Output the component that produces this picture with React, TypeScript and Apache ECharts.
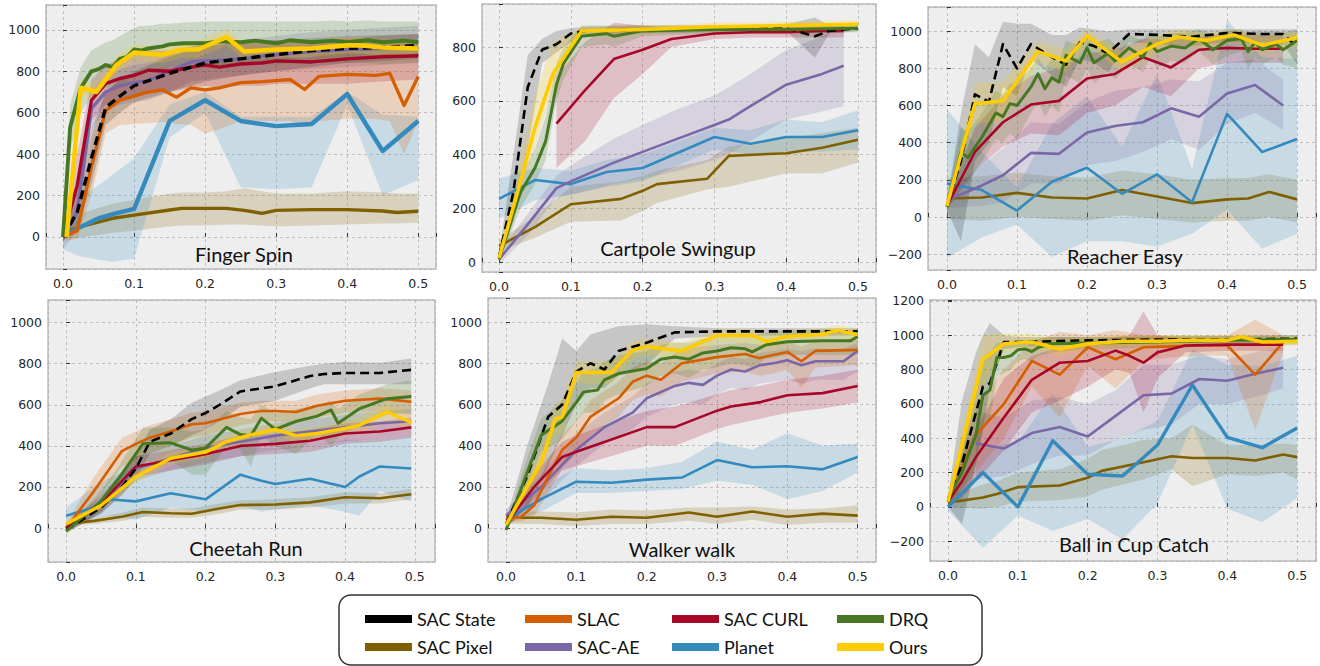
import React, { useEffect, useRef } from 'react';
import * as echarts from 'echarts';

type Row = [number, number, number, number]; // x, mean, lower, upper

const METHODS = ['SAC State', 'SAC Pixel', 'SLAC', 'SAC-AE', 'SAC CURL', 'Planet', 'DRQ', 'Ours'];
const COLORS: Record<string, string> = {
  'SAC State': '#000000',
  'SAC Pixel': '#7f6000',
  'SLAC': '#d55e00',
  'SAC-AE': '#7a68a6',
  'SAC CURL': '#a60628',
  'Planet': '#348abd',
  'DRQ': '#467821',
  'Ours': '#ffcc00',
};
const DRAW_ORDER = ['SAC Pixel', 'Planet', 'SAC-AE', 'SLAC', 'SAC CURL', 'SAC State', 'DRQ', 'Ours'];

// ---------- Finger Spin ----------
const fsState: Row[] = [[0,0,-20,20],[0.02,120,40,250],[0.04,380,250,520],[0.06,625,540,700],[0.08,680,600,760],[0.1,730,650,800],[0.15,790,700,870],[0.2,840,750,920],[0.25,860,780,940],[0.3,880,800,950],[0.35,900,820,960],[0.4,910,840,970],[0.45,915,850,975],[0.5,925,860,980]];
const fsPixel: Row[] = [[0.005,25,-10,60],[0.03,55,0,120],[0.07,90,20,160],[0.1,105,30,180],[0.15,130,50,210],[0.167,138,55,215],[0.2,138,55,215],[0.23,138,60,220],[0.255,128,60,235],[0.28,114,55,220],[0.3,128,50,210],[0.35,132,55,210],[0.4,132,60,220],[0.45,125,65,215],[0.47,118,65,210],[0.5,124,70,210]];
const fsPlanet: Row[] = [[0,0,-60,20],[0.02,40,-90,180],[0.05,90,-110,250],[0.07,110,-120,300],[0.1,135,-105,380],[0.15,560,480,640],[0.2,660,600,700],[0.25,560,240,580],[0.3,535,230,580],[0.35,545,240,580],[0.4,690,640,700],[0.45,415,200,590],[0.5,560,275,580]];
const fsSlac: Row[] = [[0,0,-20,20],[0.02,30,-10,80],[0.04,340,200,480],[0.06,610,500,700],[0.08,660,540,760],[0.1,680,545,790],[0.12,700,550,810],[0.14,710,555,820],[0.16,675,545,810],[0.18,720,540,830],[0.2,710,500,840],[0.22,720,520,850],[0.25,745,560,860],[0.28,750,560,860],[0.3,755,560,870],[0.32,760,560,870],[0.34,712,530,860],[0.36,775,560,880],[0.4,785,570,890],[0.44,780,570,880],[0.46,790,560,890],[0.48,635,400,860],[0.5,775,560,900]];
const fsCurl: Row[] = [[0,0,-20,20],[0.02,250,100,400],[0.04,660,560,760],[0.06,740,640,830],[0.08,765,660,860],[0.1,780,680,880],[0.12,805,700,900],[0.15,800,700,900],[0.18,820,720,920],[0.2,830,730,930],[0.22,820,720,930],[0.25,835,730,940],[0.28,840,730,950],[0.3,850,740,950],[0.35,845,740,950],[0.4,860,740,960],[0.45,870,750,970],[0.5,875,760,980]];
const fsAe: Row[] = [[0,0,-60,30],[0.02,120,30,250],[0.04,620,520,700],[0.06,700,610,780],[0.08,730,640,810],[0.1,745,650,830],[0.12,755,660,840],[0.15,800,700,880],[0.18,845,750,920],[0.2,850,760,930],[0.25,860,780,950],[0.3,880,800,970],[0.35,895,810,990],[0.4,905,820,1000],[0.45,910,830,1010],[0.5,915,840,1020]];
const fsDrq: Row[] = [[0,0,-20,20],[0.01,530,420,640],[0.025,720,600,820],[0.04,800,680,900],[0.05,810,700,920],[0.06,830,720,940],[0.07,820,710,950],[0.08,860,740,970],[0.09,870,750,990],[0.1,905,790,1010],[0.11,900,800,1020],[0.12,910,800,1020],[0.14,920,810,1030],[0.15,930,820,1030],[0.17,935,820,1035],[0.2,935,830,1040],[0.22,945,830,1040],[0.25,940,830,1040],[0.27,948,840,1040],[0.3,935,830,1040],[0.32,950,840,1040],[0.35,940,840,1040],[0.38,948,840,1045],[0.4,940,840,1040],[0.43,950,840,1045],[0.45,940,835,1040],[0.48,948,840,1040],[0.5,940,840,1040]];
const fsOurs: Row[] = [[0.005,0,-20,20],[0.025,720,680,760],[0.047,700,660,740],[0.075,830,790,870],[0.1,890,850,930],[0.14,880,840,920],[0.167,905,865,945],[0.19,905,865,945],[0.23,965,925,1005],[0.255,895,855,935],[0.3,905,865,945],[0.35,910,870,950],[0.4,925,885,965],[0.42,925,885,965],[0.45,915,875,955],[0.5,910,870,950]];

// ---------- Cartpole Swingup ----------
const cpState: Row[] = [[0,20,10,30],[0.02,260,150,400],[0.04,650,420,770],[0.06,790,740,830],[0.08,810,780,860],[0.1,850,820,870],[0.12,860,840,875],[0.2,865,850,880],[0.3,868,855,880],[0.4,870,860,885],[0.44,840,760,910],[0.46,860,850,880],[0.5,870,860,885]];
const cpPixel: Row[] = [[0,60,40,80],[0.05,130,90,170],[0.1,215,150,280],[0.17,235,155,300],[0.2,265,190,320],[0.22,290,220,340],[0.29,310,270,380],[0.32,395,280,430],[0.4,405,330,460],[0.45,425,330,480],[0.5,455,370,500]];
const cpPlanet: Row[] = [[0,235,160,310],[0.05,305,230,350],[0.1,290,250,340],[0.15,335,280,380],[0.2,350,300,400],[0.3,465,420,500],[0.35,440,400,490],[0.4,465,410,530],[0.45,465,410,520],[0.5,490,420,565]];
const cpAe: Row[] = [[0,10,-10,40],[0.04,140,100,180],[0.08,275,240,320],[0.1,300,250,360],[0.16,370,290,460],[0.2,410,310,510],[0.25,460,340,570],[0.3,510,380,620],[0.32,530,400,650],[0.35,580,450,700],[0.4,660,530,790],[0.45,700,560,840],[0.48,730,580,880]];
const cpCurl: Row[] = [[0.08,515,350,690],[0.12,640,450,820],[0.16,755,610,890],[0.2,790,700,880],[0.24,830,800,870],[0.3,850,830,875],[0.35,855,835,880],[0.4,855,835,880],[0.45,860,835,880],[0.48,860,835,880]];
const cpDrq: Row[] = [[0,10,0,20],[0.03,260,200,320],[0.05,350,290,420],[0.065,450,380,540],[0.08,660,600,740],[0.09,740,680,800],[0.115,840,800,880],[0.15,850,810,880],[0.16,840,800,880],[0.2,860,840,880],[0.3,865,850,880],[0.4,865,850,880],[0.5,870,855,885]];
const cpOurs: Row[] = [[0,15,5,25],[0.03,300,250,380],[0.05,500,430,620],[0.075,700,640,820],[0.115,860,840,875],[0.2,865,850,880],[0.3,875,860,890],[0.4,880,865,895],[0.5,885,870,900]];

// ---------- Reacher Easy ----------
const reState: Row[] = [[0,60,40,80],[0.02,300,-130,560],[0.04,660,300,930],[0.06,620,400,860],[0.08,930,700,1050],[0.1,800,650,1040],[0.12,930,850,1040],[0.15,860,760,980],[0.17,820,700,980],[0.19,940,850,1020],[0.21,920,830,1010],[0.23,880,780,1000],[0.26,985,940,1010],[0.3,980,930,1010],[0.35,970,920,1010],[0.4,990,940,1010],[0.45,985,940,1010],[0.48,985,930,1010],[0.5,915,820,1010]];
const rePixel: Row[] = [[0,100,-10,210],[0.05,105,-20,220],[0.1,130,0,240],[0.15,105,-10,220],[0.2,100,-20,210],[0.25,145,10,250],[0.3,110,-10,230],[0.35,75,-30,200],[0.4,95,-20,210],[0.43,100,-20,210],[0.46,135,0,230],[0.5,95,-30,200]];
const rePlanet: Row[] = [[0,180,-220,580],[0.05,145,-110,350],[0.1,35,-40,160],[0.15,190,-215,500],[0.2,265,-130,650],[0.25,125,-130,380],[0.3,230,-160,770],[0.35,80,-90,260],[0.4,555,40,1060],[0.45,350,-170,860],[0.5,420,-90,850]];
const reAe: Row[] = [[0,90,50,130],[0.05,170,60,280],[0.08,225,80,370],[0.12,345,180,510],[0.16,340,180,500],[0.2,455,280,620],[0.24,490,300,680],[0.28,510,350,700],[0.32,585,420,740],[0.36,540,360,730],[0.4,665,500,830],[0.44,710,560,850],[0.48,600,470,740]];
const reCurl: Row[] = [[0,60,40,80],[0.04,350,250,480],[0.08,510,380,650],[0.12,605,450,760],[0.16,625,440,800],[0.2,745,560,880],[0.24,770,600,900],[0.28,860,700,960],[0.32,805,650,950],[0.36,900,800,970],[0.4,910,830,980],[0.44,905,830,980],[0.48,905,830,980]];
const reDrq: Row[] = [[0,55,20,90],[0.02,350,200,480],[0.03,320,180,460],[0.05,430,300,560],[0.07,560,420,680],[0.08,540,400,660],[0.09,610,450,720],[0.1,600,420,720],[0.12,700,560,800],[0.13,770,620,860],[0.14,690,540,800],[0.15,750,600,850],[0.16,725,560,840],[0.17,870,760,950],[0.19,830,720,920],[0.2,910,800,980],[0.21,830,720,930],[0.23,880,780,960],[0.24,840,740,930],[0.26,910,820,980],[0.28,860,780,950],[0.29,935,860,1000],[0.3,890,800,970],[0.32,920,840,990],[0.34,910,830,990],[0.36,960,890,1010],[0.38,900,820,980],[0.4,950,870,1000],[0.42,960,890,1010],[0.43,890,800,980],[0.44,940,860,1000],[0.45,900,820,990],[0.47,930,860,1000],[0.48,900,820,990],[0.5,950,800,1010]];
const reOurs: Row[] = [[0,60,40,80],[0.04,610,500,720],[0.08,625,520,730],[0.13,890,830,950],[0.17,840,780,900],[0.2,975,930,1010],[0.25,835,780,890],[0.3,930,880,980],[0.33,970,930,1010],[0.37,950,910,990],[0.41,980,940,1010],[0.45,925,880,970],[0.5,965,920,1000]];

// ---------- Cheetah Run ----------
const chState: Row[] = [[0,-10,-20,0],[0.05,100,70,140],[0.08,200,160,250],[0.1,290,240,350],[0.12,420,360,480],[0.15,460,400,530],[0.18,530,450,610],[0.2,560,480,640],[0.22,600,520,670],[0.25,665,590,720],[0.3,690,620,760],[0.35,740,680,790],[0.37,750,700,800],[0.4,755,700,810],[0.45,755,700,805],[0.495,770,700,825]];
const chPixel: Row[] = [[0,20,10,30],[0.04,35,20,50],[0.08,55,35,75],[0.11,78,55,100],[0.15,72,50,95],[0.18,70,50,95],[0.22,95,70,120],[0.25,112,90,135],[0.3,115,90,140],[0.35,125,100,150],[0.4,150,120,175],[0.45,145,120,170],[0.495,165,140,190]];
const chPlanet: Row[] = [[0,60,20,100],[0.04,100,50,200],[0.06,140,60,240],[0.1,130,40,300],[0.15,170,100,330],[0.2,140,80,350],[0.25,260,110,400],[0.28,230,80,390],[0.3,215,90,390],[0.35,240,110,400],[0.4,200,80,430],[0.42,250,60,430],[0.45,300,180,440],[0.495,290,130,450]];
const chSlac: Row[] = [[0,0,-20,20],[0.04,180,120,250],[0.08,375,300,440],[0.1,410,330,470],[0.12,440,370,500],[0.15,470,400,530],[0.18,505,440,560],[0.2,510,450,570],[0.25,555,500,610],[0.28,570,520,620],[0.3,570,520,620],[0.33,565,510,620],[0.36,595,540,650],[0.4,620,560,670],[0.45,630,570,680],[0.495,615,550,670]];
const chCurl: Row[] = [[0,0,-20,20],[0.05,120,80,160],[0.1,300,250,350],[0.15,330,280,380],[0.2,360,310,410],[0.25,400,350,450],[0.3,410,360,460],[0.35,425,370,480],[0.4,460,410,510],[0.45,470,420,520],[0.495,490,440,540]];
const chAe: Row[] = [[0,0,-20,20],[0.05,110,70,150],[0.1,290,230,350],[0.15,340,280,400],[0.2,390,320,450],[0.25,420,350,480],[0.3,450,380,510],[0.35,470,400,530],[0.4,490,420,550],[0.45,510,440,570],[0.495,520,450,580]];
const chDrq: Row[] = [[0,-15,-30,0],[0.05,130,80,180],[0.075,240,180,300],[0.11,410,320,490],[0.15,415,330,490],[0.18,380,260,470],[0.2,390,260,480],[0.23,490,400,570],[0.25,455,380,540],[0.265,450,300,530],[0.28,535,450,600],[0.3,480,400,560],[0.33,520,360,580],[0.36,545,460,600],[0.38,575,400,620],[0.39,510,440,580],[0.42,580,500,650],[0.46,630,550,700],[0.495,640,560,720]];
const chOurs: Row[] = [[0,20,10,30],[0.05,110,90,130],[0.1,250,220,280],[0.15,340,310,370],[0.2,370,340,400],[0.23,420,390,450],[0.26,450,420,480],[0.3,480,450,510],[0.33,450,420,480],[0.36,460,430,490],[0.4,485,450,520],[0.42,500,460,540],[0.46,565,520,600],[0.495,515,480,550]];

// ---------- Walker walk ----------
const wkState: Row[] = [[0,20,0,40],[0.03,250,100,400],[0.06,540,300,700],[0.08,600,450,920],[0.1,760,600,860],[0.12,800,680,940],[0.14,770,680,960],[0.16,860,740,980],[0.2,900,790,990],[0.24,950,920,980],[0.3,955,930,970],[0.4,955,935,970],[0.5,955,935,970]];
const wkPixel: Row[] = [[0,50,20,80],[0.05,50,20,80],[0.1,40,10,75],[0.15,55,20,90],[0.2,50,20,85],[0.26,75,35,100],[0.3,55,20,100],[0.35,80,40,105],[0.4,55,15,90],[0.45,70,25,95],[0.5,60,25,110]];
const wkPlanet: Row[] = [[0,40,20,60],[0.05,140,80,200],[0.1,225,170,290],[0.15,220,170,280],[0.2,235,180,290],[0.25,245,190,320],[0.3,330,230,420],[0.35,295,210,380],[0.4,300,140,460],[0.45,285,180,400],[0.5,345,270,410]];
const wkCurl: Row[] = [[0,20,0,50],[0.04,200,140,260],[0.08,345,280,420],[0.1,370,300,450],[0.15,430,350,510],[0.2,490,400,570],[0.24,490,400,590],[0.3,570,480,650],[0.32,590,500,670],[0.36,610,530,690],[0.4,645,560,720],[0.45,655,580,740],[0.5,690,610,770]];
const wkAe: Row[] = [[0,60,30,90],[0.05,200,130,260],[0.1,380,300,460],[0.14,490,410,560],[0.18,560,480,640],[0.2,630,540,700],[0.24,690,600,760],[0.26,705,610,770],[0.28,695,600,760],[0.3,740,650,800],[0.32,770,680,830],[0.34,760,670,820],[0.36,790,700,850],[0.38,800,710,860],[0.4,815,720,870],[0.42,790,700,860],[0.44,810,720,870],[0.48,810,720,870],[0.5,860,760,900]];
const wkSlac: Row[] = [[0,50,30,70],[0.02,50,30,80],[0.04,110,60,170],[0.06,250,170,330],[0.08,380,290,460],[0.1,440,360,520],[0.12,540,450,620],[0.16,630,540,710],[0.18,710,620,780],[0.2,740,650,810],[0.22,720,640,800],[0.25,800,710,870],[0.3,830,750,890],[0.34,845,760,900],[0.36,825,740,890],[0.38,840,750,900],[0.4,855,770,910],[0.42,810,680,880],[0.44,860,780,910],[0.5,865,790,920]];
const wkDrq: Row[] = [[0,-10,-20,10],[0.03,270,200,340],[0.05,450,370,530],[0.08,520,430,620],[0.1,610,520,700],[0.11,660,560,760],[0.13,670,560,780],[0.14,720,620,810],[0.16,750,650,840],[0.2,775,690,860],[0.22,820,740,890],[0.24,830,750,900],[0.26,820,730,900],[0.28,850,770,920],[0.3,860,780,930],[0.32,875,800,940],[0.34,870,790,940],[0.35,855,780,930],[0.37,890,820,950],[0.4,905,840,960],[0.45,910,840,965],[0.49,910,840,960],[0.5,930,860,970]];
const wkOurs: Row[] = [[0,15,0,30],[0.03,200,150,260],[0.05,320,260,380],[0.07,530,450,600],[0.08,540,460,620],[0.1,755,700,810],[0.15,755,700,810],[0.18,865,820,910],[0.2,880,840,920],[0.25,860,820,900],[0.3,935,900,965],[0.35,935,900,965],[0.37,905,870,940],[0.4,930,900,960],[0.45,940,910,970],[0.47,960,930,985],[0.5,940,910,970]];

// ---------- Ball in Cup Catch ----------
const bcState: Row[] = [[0,30,0,60],[0.02,250,-100,620],[0.04,550,250,900],[0.05,700,450,1000],[0.06,720,700,1070],[0.08,960,920,1000],[0.1,960,930,990],[0.2,970,950,990],[0.3,975,955,995],[0.4,975,955,995],[0.5,980,960,1000]];
const bcPixel: Row[] = [[0,25,0,60],[0.05,55,-10,130],[0.07,75,0,150],[0.1,115,30,200],[0.16,125,40,220],[0.2,170,60,280],[0.22,210,100,330],[0.28,260,160,390],[0.32,295,220,400],[0.35,285,120,480],[0.4,285,190,360],[0.44,270,180,360],[0.48,305,200,370],[0.5,290,160,360]];
const bcPlanet: Row[] = [[0,0,-20,20],[0.05,200,-240,340],[0.1,0,-50,380],[0.15,385,-140,660],[0.2,190,-70,350],[0.25,180,-190,400],[0.3,360,20,500],[0.35,710,480,920],[0.4,405,-10,830],[0.45,345,-90,820],[0.5,460,50,880]];
const bcAe: Row[] = [[0.04,370,160,560],[0.08,340,180,520],[0.12,430,250,620],[0.16,465,300,640],[0.2,410,300,600],[0.24,530,390,680],[0.28,650,450,830],[0.32,660,480,830],[0.36,745,600,880],[0.4,735,600,860],[0.44,775,640,900],[0.48,810,690,930]];
const bcCurl: Row[] = [[0,30,0,60],[0.02,150,50,300],[0.04,290,150,450],[0.08,520,330,750],[0.12,740,550,880],[0.16,840,620,930],[0.2,850,700,950],[0.24,910,800,990],[0.26,880,780,1000],[0.28,840,550,1140],[0.3,900,750,1000],[0.34,940,900,980],[0.4,945,910,980],[0.48,945,910,980]];
const bcSlac: Row[] = [[0,30,0,60],[0.04,420,200,600],[0.08,600,400,800],[0.12,850,700,960],[0.16,770,520,1020],[0.2,930,820,1000],[0.24,860,690,1030],[0.28,930,850,1000],[0.32,935,870,1000],[0.36,940,880,1000],[0.4,940,880,1000],[0.44,770,450,1090],[0.48,960,900,1000]];
const bcDrq: Row[] = [[0,50,20,80],[0.02,200,100,350],[0.04,420,250,650],[0.05,650,450,850],[0.06,680,500,900],[0.07,870,760,960],[0.08,870,780,950],[0.09,880,800,960],[0.1,915,850,970],[0.11,920,860,970],[0.12,905,850,970],[0.13,930,880,980],[0.15,950,900,990],[0.2,955,920,990],[0.3,960,930,990],[0.4,970,940,995],[0.5,975,945,1000]];
const bcOurs: Row[] = [[0,30,10,60],[0.05,860,700,1000],[0.08,950,900,1010],[0.12,960,930,1010],[0.16,920,880,980],[0.2,950,920,990],[0.25,965,930,1000],[0.3,965,930,1000],[0.35,970,940,1000],[0.4,970,940,1000],[0.42,990,960,1010],[0.45,960,930,990],[0.5,965,940,1000]];

const FINGER = { 'SAC State': fsState, 'SAC Pixel': fsPixel, 'SLAC': fsSlac, 'SAC-AE': fsAe, 'SAC CURL': fsCurl, 'Planet': fsPlanet, 'DRQ': fsDrq, 'Ours': fsOurs };
const CARTPOLE = { 'SAC State': cpState, 'SAC Pixel': cpPixel, 'SAC-AE': cpAe, 'SAC CURL': cpCurl, 'Planet': cpPlanet, 'DRQ': cpDrq, 'Ours': cpOurs };
const REACHER = { 'SAC State': reState, 'SAC Pixel': rePixel, 'SAC-AE': reAe, 'SAC CURL': reCurl, 'Planet': rePlanet, 'DRQ': reDrq, 'Ours': reOurs };
const CHEETAH = { 'SAC State': chState, 'SAC Pixel': chPixel, 'SLAC': chSlac, 'SAC-AE': chAe, 'SAC CURL': chCurl, 'Planet': chPlanet, 'DRQ': chDrq, 'Ours': chOurs };
const WALKER = { 'SAC State': wkState, 'SAC Pixel': wkPixel, 'SLAC': wkSlac, 'SAC-AE': wkAe, 'SAC CURL': wkCurl, 'Planet': wkPlanet, 'DRQ': wkDrq, 'Ours': wkOurs };
const BALLCUP = { 'SAC State': bcState, 'SAC Pixel': bcPixel, 'SLAC': bcSlac, 'SAC-AE': bcAe, 'SAC CURL': bcCurl, 'Planet': bcPlanet, 'DRQ': bcDrq, 'Ours': bcOurs };

const TITLES = ['Finger Spin', 'Cartpole Swingup', 'Reacher Easy', 'Cheetah Run', 'Walker walk', 'Ball in Cup Catch'];
const PANEL_DATA: Record<string, Row[]>[] = [FINGER, CARTPOLE, REACHER, CHEETAH, WALKER, BALLCUP];
const Y_RANGES: [number, number][] = [[-155, 1120], [-37, 960], [-285, 1130], [-165, 1110], [-165, 1117], [-315, 1205]];
const Y_SPLITS = [6, 5, 7, 6, 6, 7];

// layout (pixels)
const GRIDS = [
  { left: 46, top: 5, width: 390, height: 264 },
  { left: 482, top: 4, width: 394, height: 268 },
  { left: 928, top: 7, width: 388, height: 263 },
  { left: 48, top: 300, width: 387, height: 262 },
  { left: 488, top: 298, width: 388, height: 264 },
  { left: 930, top: 300, width: 386, height: 261 },
];
const X_RANGES: [number, number][] = [[-0.024, 0.525], [-0.0237, 0.525], [-0.027, 0.527], [-0.026, 0.529], [-0.0256, 0.526], [-0.0258, 0.527]];
const TITLE_POS = [[244, 254], [678, 248], [1125, 256], [246, 548], [682, 549], [1134, 544]];

const hexToRgba = (hex: string, a: number) => {
  const n = parseInt(hex.slice(1), 16);
  return `rgba(${(n >> 16) & 255},${(n >> 8) & 255},${n & 255},${a})`;
};
const isMultiple = (v: number, step: number) => Math.abs(v / step - Math.round(v / step)) < 1e-6;

export default function App() {
  const ref = useRef<HTMLDivElement>(null);
  useEffect(() => {
    if (!ref.current) return;
    const chart = echarts.init(ref.current, undefined, { renderer: 'svg' });

    const grid: any[] = [];
    const xAxis: any[] = [];
    const yAxis: any[] = [];
    const series: any[] = [];
    const labelFont = { fontFamily: 'DejaVu Sans', fontSize: 12.5, color: '#262626' };

    PANEL_DATA.forEach((panel, i) => {
      grid.push({ ...GRIDS[i], show: true, backgroundColor: '#eeeeee', borderColor: '#bcbcbc', borderWidth: 1.5, containLabel: false });
      xAxis.push({
        type: 'value', gridIndex: i, min: X_RANGES[i][0], max: X_RANGES[i][1], splitNumber: 5,
        axisLine: { show: false },
        axisTick: { show: true, inside: true, length: 4, lineStyle: { color: '#333', width: 1 } },
        axisLabel: { ...labelFont, margin: 8, showMinLabel: true, showMaxLabel: true, formatter: (v: number) => (isMultiple(v, 0.1) && v >= -1e-9 ? v.toFixed(1) : '') },
        splitLine: { show: true, lineStyle: { type: [3, 3], color: '#b2b2b2', width: 0.8 } },
      });
      yAxis.push({
        type: 'value', gridIndex: i, min: Y_RANGES[i][0], max: Y_RANGES[i][1], splitNumber: Y_SPLITS[i],
        axisLine: { show: false },
        axisTick: { show: true, inside: true, length: 4, lineStyle: { color: '#333', width: 1 } },
        axisLabel: { ...labelFont, margin: 6, formatter: (v: number) => (isMultiple(v, 200) ? (v < 0 ? '\u2212' + Math.abs(v) : String(v)) : '') },
        splitLine: { show: true, lineStyle: { type: [3, 3], color: '#b2b2b2', width: 0.8 } },
      });

      const present = DRAW_ORDER.filter((m) => panel[m]);
      // bands
      present.forEach((m) => {
        const rows = panel[m];
        const color = COLORS[m];
        series.push({
          type: 'custom', name: m + ' band', xAxisIndex: i, yAxisIndex: i, silent: true, clip: true, z: 1,
          data: [[rows[0][0], rows[0][1]]],
          encode: { x: 0, y: 1 },
          renderItem: (_p: any, api: any) => {
            const upper = rows.map((r) => api.coord([r[0], r[3]]));
            const lower = rows.slice().reverse().map((r) => api.coord([r[0], r[2]]));
            return { type: 'polygon', shape: { points: upper.concat(lower) }, style: { fill: hexToRgba(color, m === 'SAC State' ? 0.17 : 0.2) } };
          },
        });
      });
      // lines
      const scale = i === 0 ? 1.3 : 1;
      present.forEach((m) => {
        const rows = panel[m];
        let w = m === 'Ours' ? 3.5 : m === 'DRQ' ? 3 : 2.6;
        if (m === 'Planet' && (i === 0 || i === 5)) w = 3.4;
        series.push({
          type: 'line', name: m, xAxisIndex: i, yAxisIndex: i, silent: true, z: 2,
          data: rows.map((r) => [r[0], r[1]]),
          showSymbol: false, symbol: 'none', clip: true,
          lineStyle: { color: COLORS[m], width: w * scale, type: m === 'SAC State' ? [9, 5] : 'solid', join: 'round' },
          itemStyle: { color: COLORS[m] },
        });
      });
    });

    const graphic: any[] = TITLES.map((t, i) => ({
      type: 'text', x: TITLE_POS[i][0], y: TITLE_POS[i][1], z: 100,
      style: { text: t, fontFamily: 'Lato', fontSize: 20, fill: '#111', textAlign: 'center', textVerticalAlign: 'middle' },
    }));

    // legend box
    graphic.push({
      type: 'rect', shape: { x: 339, y: 595, width: 643, height: 70, r: 12 },
      style: { fill: '#ffffff', stroke: '#333333', lineWidth: 1.5 }, z: 100,
    });
    const LEG_COLS = [365, 525, 672, 837];
    const LEG_ROWS = [619, 647];
    const LEGEND_GRID = [['SAC State', 'SAC Pixel'], ['SLAC', 'SAC-AE'], ['SAC CURL', 'Planet'], ['DRQ', 'Ours']];
    LEGEND_GRID.forEach((col, ci) => {
      col.forEach((m, ri) => {
        const cy = LEG_ROWS[ri];
        graphic.push({ type: 'rect', shape: { x: LEG_COLS[ci], y: cy - 4, width: 47, height: 8 }, style: { fill: COLORS[m] }, z: 101 });
        graphic.push({
          type: 'text', x: LEG_COLS[ci] + 52, y: cy, z: 101,
          style: { text: m, fontFamily: 'Lato', fontSize: 18, fill: '#111', textAlign: 'left', textVerticalAlign: 'middle' },
        });
      });
    });

    chart.setOption({ animation: false, grid, xAxis, yAxis, series, graphic });
    return () => chart.dispose();
  }, []);

  return <div ref={ref} style={{ position: 'fixed', left: 0, top: 0, width: 1320, height: 666, background: '#ffffff' }} />;
}
